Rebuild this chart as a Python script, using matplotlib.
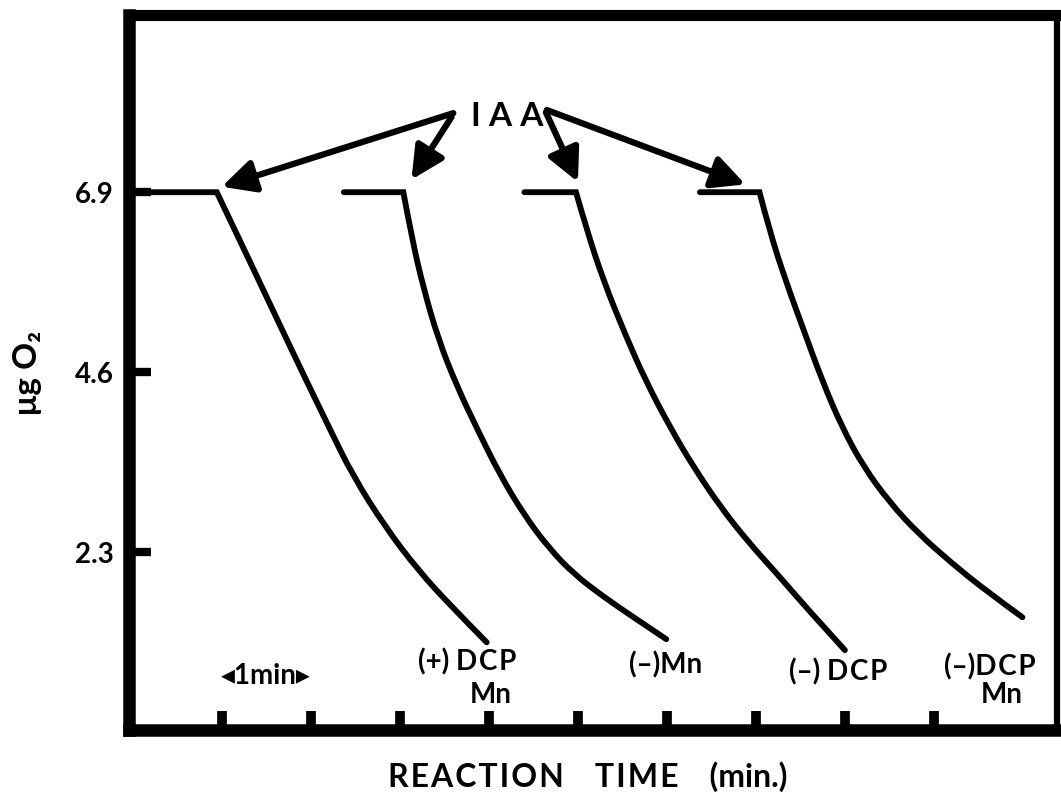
import numpy as np
import matplotlib.pyplot as plt
from matplotlib.path import Path
from matplotlib.patches import PathPatch

# O2 traces (time in min, ug O2).
# first two points = flat part before IAA is added
t_plus_dcp_mn = [0.0, 0.944, 1.200, 1.446, 1.691, 1.947, 2.203, 2.471, 2.838, 3.206, 3.585, 3.975]
o2_plus_dcp_mn = [6.9, 6.9, 6.29, 5.70, 5.11, 4.50, 3.90, 3.28, 2.62, 2.07, 1.60, 1.15]

t_minus_mn = [2.371, 3.039, 3.139, 3.262, 3.429, 3.641, 3.875, 4.120, 4.399, 4.677, 4.956, 5.290, 5.624, 5.992]
o2_minus_mn = [6.9, 6.9, 6.29, 5.69, 5.03, 4.42, 3.86, 3.30, 2.77, 2.35, 2.02, 1.73, 1.47, 1.19]

t_minus_dcp = [4.398, 4.978, 5.101, 5.290, 5.524, 5.769, 6.048, 6.293, 6.594, 6.906, 7.240, 7.574, 7.998]
o2_minus_dcp = [6.9, 6.9, 6.41, 5.76, 5.10, 4.47, 3.87, 3.40, 2.89, 2.44, 2.02, 1.58, 1.05]

t_minus_dcp_mn = [6.370, 7.039, 7.151, 7.329, 7.541, 7.741, 7.964, 8.209, 8.499, 8.822, 9.190, 9.580, 9.992]
o2_minus_dcp_mn = [6.9, 6.9, 6.41, 5.78, 5.12, 4.50, 3.90, 3.39, 2.94, 2.54, 2.17, 1.81, 1.47]

yticks = [2.3, 4.6, 6.9]
yticklabels = ['2.3', '4.6', '6.9']
xticks = [1, 2, 3, 4, 5, 6, 7, 8, 9]

FONT = ['Lato', 'DejaVu Sans']
plt.rcParams['font.family'] = FONT
plt.rcParams['font.weight'] = 'bold'


def trace(ax, t, y):
    # flat line, sharp corner, then a smooth (quadratic bezier) fall
    pts = list(zip(t[1:], y[1:]))
    verts = [(t[0], y[0]), pts[0]]
    codes = [Path.MOVETO, Path.LINETO]
    for i in range(1, len(pts) - 1):
        if i == len(pts) - 2:
            end = pts[i + 1]
        else:
            end = ((pts[i][0] + pts[i + 1][0]) / 2, (pts[i][1] + pts[i + 1][1]) / 2)
        verts += [pts[i], end]
        codes += [Path.CURVE3, Path.CURVE3]
    ax.add_patch(PathPatch(Path(verts, codes), fill=False, edgecolor='black',
                           lw=4.2, capstyle='round', joinstyle='miter'))


fig = plt.figure(figsize=(10.61, 7.98), dpi=100)
ax = fig.add_axes([129/1061, 1 - 730/798, (1057-129)/1061, (730-14.5)/798])

trace(ax, t_plus_dcp_mn, o2_plus_dcp_mn)
trace(ax, t_minus_mn, o2_minus_mn)
trace(ax, t_minus_dcp, o2_minus_dcp)
trace(ax, t_minus_dcp_mn, o2_minus_dcp_mn)

ax.set_xlim(-0.042, 10.38)
ax.set_ylim(0.03, 9.17)

for side, w in [('left', 9), ('top', 8), ('bottom', 9), ('right', 4.5)]:
    ax.spines[side].set_linewidth(w)

ax.set_xticks(xticks)
ax.set_xticklabels([])
ax.set_yticks(yticks)
ax.set_yticklabels(yticklabels)
ax.tick_params(axis='x', direction='in', length=14, width=7, color='black')
ax.tick_params(axis='y', direction='in', length=16, width=6, color='black',
               labelsize=20, pad=11)

# IAA label and arrows
ax.text(4.20, 7.87, 'I A A', fontsize=24, fontweight='bold', ha='center', va='center')
arrow_kw = dict(arrowstyle='-|>,head_length=0.9,head_width=0.45', lw=4.5, color='black',
                mutation_scale=22, shrinkA=0, shrinkB=0)
for tail, head in [((3.60, 7.91), (1.00, 6.97)),
                   ((3.58, 7.86), (3.13, 7.06)),
                   ((4.64, 7.92), (5.00, 7.03)),
                   ((4.65, 7.95), (6.88, 7.00))]:
    ax.annotate('', xy=head, xytext=tail, arrowprops=arrow_kw)

# curve labels
lab = dict(fontsize=20, fontweight='bold', va='baseline')
ax.text(3.20, 0.79, '(+) D\u200aC\u200aP', ha='left', **lab)
ax.text(3.78, 0.38, 'Mn', ha='left', **lab)
ax.text(5.98, 0.75, '(–)Mn', ha='center', **lab)
ax.text(7.37, 0.66, '(–) D\u200aC\u200aP', ha='left', **lab)
ax.text(9.11, 0.73, '(–)D\u200aC\u200aP', ha='left', **lab)
ax.text(9.52, 0.37, 'Mn', ha='left', **lab)
ax.text(1.49, 0.62, '◂1min▸', ha='center', fontsize=20, fontweight='bold', va='baseline')

fig.text(588/1061, 1 - 777/798,
         'R\u200aE\u200aA\u200aC\u200aT\u200aI\u200aO\u200aN    T\u200aI\u200aM\u200aE    (min.)',
         fontsize=23, fontweight='bold', ha='center', va='center')
fig.text(27/1061, 1 - 373/798, 'μg O₂', fontsize=24, fontweight='bold',
         rotation=90, ha='center', va='center')

fig.savefig('out.png', dpi=100)
